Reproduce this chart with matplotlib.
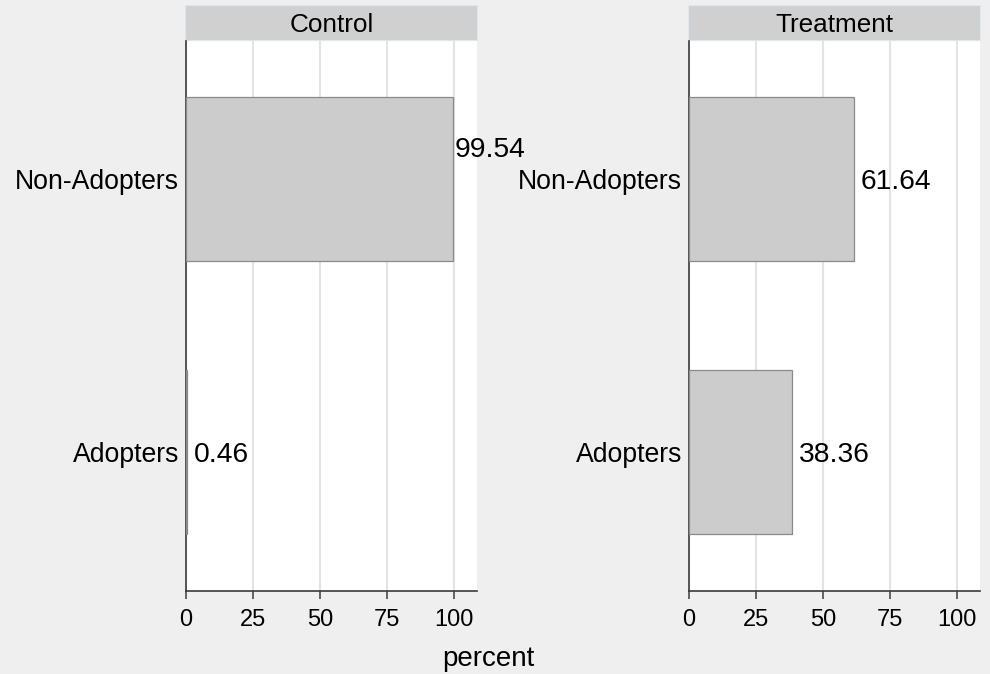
import matplotlib.pyplot as plt
from matplotlib.patches import Rectangle

plt.rcParams['font.family'] = ['Liberation Sans', 'DejaVu Sans']

# data
groups = ['Control', 'Treatment']
categories = ['Adopters', 'Non-Adopters']
control_pct = [0.46, 99.54]
treatment_pct = [38.36, 61.64]
xticks = [0, 25, 50, 75, 100]

values = [control_pct, treatment_pct]

fig = plt.figure(figsize=(9.9, 6.74), dpi=100)
fig.patch.set_facecolor('#efefef')

lefts = [186 / 990, 689 / 990]
W, H = 990, 674

for g, vals, x0 in zip(groups, values, lefts):
    ax = fig.add_axes([x0, 1 - 591 / H, 291 / W, 550 / H])
    ax.set_facecolor('white')
    ypos = list(range(len(categories)))
    ax.barh(ypos, vals, height=0.6, color='#cccccc',
            edgecolor='#8a8a8a', linewidth=0.9, zorder=3)
    ax.set_xlim(0, 108.6)
    ax.set_ylim(-0.51, 1.507)
    ax.set_xticks(xticks)
    ax.set_xticklabels([str(t) for t in xticks])
    ax.set_yticks(ypos)
    ax.set_yticklabels(categories, va='center_baseline')
    ax.grid(axis='x', color='#e3e3e3', linewidth=1.5, zorder=0)
    ax.set_axisbelow(True)
    for s in ['top', 'right']:
        ax.spines[s].set_visible(False)
    for s in ['left', 'bottom']:
        ax.spines[s].set_color('#3a3a3a')
        ax.spines[s].set_linewidth(1.2)
    ax.tick_params(axis='x', length=6, width=1.1, color='#3a3a3a',
                   labelsize=17, pad=7)
    ax.tick_params(axis='y', length=0, labelsize=19.2, pad=5)

    # value labels
    for y, v in zip(ypos, vals):
        if v > 90:
            # label pushed up near the top of the bar as in the original
            off = (1.5, 23)
        else:
            off = (5, 0)
        ax.annotate(f'{v:.2f}', xy=(v, y), xytext=off,
                    textcoords='offset points', ha='left',
                    va='center_baseline',
                    fontsize=20.3, color='black', zorder=4,
                    annotation_clip=False)

    # facet strip
    strip = Rectangle((-0.004, 1 + 1 / 550), 1.004, 35 / 550,
                      transform=ax.transAxes, facecolor='#d0d0d0',
                      edgecolor='#dfe7ee', linewidth=0.8, clip_on=False)
    ax.add_patch(strip)
    ax.text(0.5, 1 + 18 / 550, g, transform=ax.transAxes,
            ha='center', va='center_baseline', fontsize=18.8)

fig.text(488 / W, 1 - 666 / H, 'percent', ha='center', va='baseline',
         fontsize=20)

fig.savefig('out.png', dpi=100, facecolor=fig.get_facecolor())
